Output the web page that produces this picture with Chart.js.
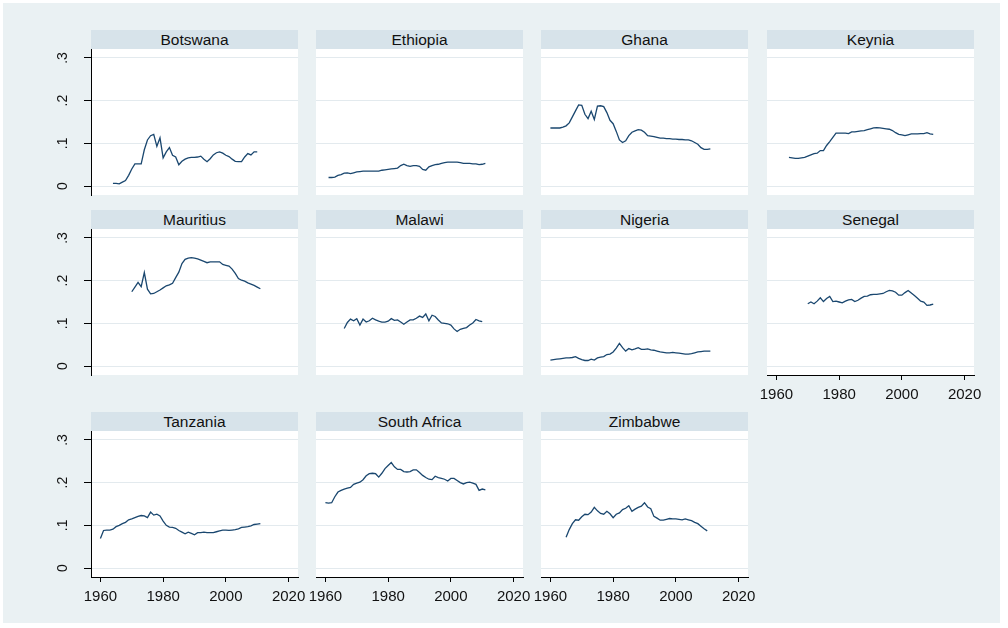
<!DOCTYPE html>
<html lang="en">
<head>
<meta charset="UTF-8">
<title>Series by country</title>
<script src="https://cdn.jsdelivr.net/npm/chart.js"></script>
<style>
  body { margin: 0; background: #fff; font-family: "Liberation Sans", Arial, sans-serif; }
  #frame { position: absolute; left: 3px; top: 3px; width: 997px; height: 620px; background: #eaf1f3; }
  .strip { position: absolute; height: 19px; line-height: 19px; background: #d7e3ea; text-align: center; font-size: 15.5px; color: #111; }
  canvas { position: absolute; }
</style>
</head>
<body>
<div id="frame"></div>
<script>
// panel names (in the order the graph shows them) and the first year of each series
const countries = ['Botswana', 'Ethiopia', 'Ghana', 'Keynia', 'Mauritius', 'Malawi',
                   'Nigeria', 'Senegal', 'Tanzania', 'South Africa', 'Zimbabwe'];
const startYears = [1964, 1961, 1960, 1964, 1970, 1966, 1960, 1970, 1960, 1960, 1965];

// yearly values, one per year from the start year on
const botswana = [.006,.006,.005,.009,.013,.025,.04,.052,.052,.052,.085,.108,.118,.121,.093,.113,.066,.08,.09,.072,
  .068,.05,.058,.063,.066,.067,.067,.068,.07,.063,.057,.064,.073,.078,.08,.077,.072,.069,.063,.058,.057,.057,.068,.076,.073,.08,.08];
const ethiopia = [.02,.02,.021,.025,.027,.03,.031,.029,.031,.033,.034,.035,.035,.035,.035,.035,.035,.037,.038,.039,
  .04,.041,.042,.048,.051,.048,.046,.048,.048,.046,.039,.037,.045,.048,.05,.051,.053,.055,.056,.056,.056,.056,.055,.053,.053,.053,.052,.052,.05,.051,.053];
const ghana = [.136,.136,.136,.136,.138,.141,.148,.162,.176,.19,.189,.168,.158,.175,.156,.187,.188,.186,.172,.154,
  .146,.128,.108,.102,.106,.118,.126,.129,.132,.131,.126,.118,.117,.116,.114,.112,.112,.111,.111,.11,.11,.109,.109,.108,.108,.106,.102,.098,.09,.086,.086,.087];
const keynia = [.067,.066,.065,.065,.066,.067,.07,.073,.076,.077,.083,.083,.095,.104,.114,.124,.124,.124,.124,.123,
  .127,.127,.128,.129,.13,.132,.134,.136,.137,.136,.135,.134,.133,.13,.125,.121,.12,.118,.12,.122,.122,.122,.123,.123,.125,.122,.121];
const mauritius = [.174,.185,.196,.186,.219,.18,.169,.17,.174,.178,.183,.188,.19,.194,.207,.22,.24,.25,.253,.254,
  .253,.251,.248,.245,.242,.244,.244,.244,.244,.238,.236,.234,.227,.217,.205,.201,.199,.195,.192,.189,.185,.181];
const malawi = [.088,.102,.11,.106,.111,.096,.11,.103,.106,.112,.108,.105,.103,.103,.105,.111,.107,.108,.103,.098,
  .103,.108,.108,.112,.117,.114,.122,.106,.119,.116,.108,.101,.1,.099,.096,.087,.081,.086,.088,.09,.096,.101,.109,.106,.104];
const nigeria = [.014,.015,.016,.017,.018,.019,.019,.02,.022,.018,.015,.013,.013,.016,.014,.019,.021,.022,.027,.028,
  .033,.042,.053,.043,.035,.041,.038,.04,.043,.039,.039,.04,.038,.037,.035,.033,.032,.031,.031,.032,.031,.03,.029,.028,.028,.029,.031,.033,.034,.035,.035,.035];
const senegal = [.146,.15,.146,.152,.16,.151,.158,.163,.151,.152,.15,.148,.152,.155,.156,.151,.154,.159,.163,.164,
  .167,.168,.168,.169,.17,.174,.177,.176,.173,.166,.166,.172,.177,.171,.165,.159,.152,.15,.142,.143,.145];
const tanzania = [.069,.088,.089,.089,.091,.097,.1,.104,.107,.113,.115,.118,.121,.123,.122,.118,.131,.124,.126,.122,
  .11,.1,.096,.095,.093,.088,.084,.08,.084,.081,.078,.083,.083,.084,.083,.083,.083,.085,.087,.089,.089,.088,.089,.09,.092,.095,.096,.097,.099,.102,.103,.104];
const southAfrica = [.153,.152,.153,.167,.178,.182,.185,.187,.189,.196,.199,.201,.207,.216,.221,.222,.221,.213,.222,.233,
  .24,.247,.237,.231,.231,.226,.225,.226,.23,.23,.224,.217,.212,.208,.207,.215,.212,.21,.208,.204,.21,.21,.205,.2,.197,.2,.201,.199,.196,.182,.185,.183];
const zimbabwe = [.072,.09,.104,.113,.112,.12,.126,.125,.131,.142,.134,.128,.126,.133,.127,.118,.126,.129,.137,.14,
  .146,.133,.138,.142,.145,.153,.143,.139,.121,.117,.112,.112,.114,.116,.115,.115,.114,.113,.115,.113,.111,.107,.104,.098,.092,.087];

const series = [botswana, ethiopia, ghana, keynia, mauritius, malawi, nigeria, senegal, tanzania, southAfrica, zimbabwe];

const xTicks = [1960, 1980, 2000, 2020];
const yTicks = [0, 0.1, 0.2, 0.3];
const yTickLabels = ['0', '.1', '.2', '.3'];

// panel layout (pixels)
const colLeft = [91, 316, 541, 767];
const stripTop = [30, 210, 412];
const stripH = 19, plotW = 207, plotH = 146;

Chart.defaults.font.family = '"Liberation Sans", Arial, sans-serif';

const plotBg = {
  id: 'plotBg',
  beforeDraw(chart) {
    const a = chart.chartArea, c = chart.ctx;
    c.save();
    c.fillStyle = '#ffffff';
    c.fillRect(a.left, a.top, a.width, a.height);
    c.restore();
  }
};

countries.forEach((name, i) => {
  const col = i % 4, row = Math.floor(i / 4);
  const showX = row === 2 || name === 'Senegal';
  const showY = col === 0;
  const plotLeft = colLeft[col], plotTop = stripTop[row] + stripH;
  const padL = showY ? 51 : 12, padT = 6, padR = 20, padB = showX ? 30 : 6;

  const strip = document.createElement('div');
  strip.className = 'strip';
  strip.textContent = name;
  strip.style.left = plotLeft + 'px';
  strip.style.top = stripTop[row] + 'px';
  strip.style.width = plotW + 'px';
  document.body.appendChild(strip);

  const cv = document.createElement('canvas');
  cv.width = padL + plotW + padR;
  cv.height = padT + plotH + padB;
  cv.style.left = (plotLeft - padL) + 'px';
  cv.style.top = (plotTop - padT) + 'px';
  document.body.appendChild(cv);

  const points = series[i].map((v, k) => ({ x: startYears[i] + k, y: v }));

  new Chart(cv, {
    type: 'line',
    data: {
      datasets: [{
        data: points,
        borderColor: '#1a476f',
        borderWidth: 1.3,
        pointRadius: 0,
        tension: 0,
        fill: false
      }]
    },
    plugins: [plotBg],
    options: {
      responsive: false,
      animation: false,
      devicePixelRatio: 1,
      layout: { padding: { left: showY ? 0 : 12, top: padT, right: padR, bottom: showX ? 0 : 6 } },
      plugins: { legend: { display: false }, tooltip: { enabled: false } },
      scales: {
        x: {
          type: 'linear',
          min: 1957,
          max: 2023,
          display: showX,
          afterBuildTicks: s => { s.ticks = xTicks.map(v => ({ value: v })); },
          afterFit: s => { s.height = showX ? 30 : 0; s.paddingLeft = 0; s.paddingRight = 0; },
          grid: { display: true, drawOnChartArea: false, drawTicks: true, tickLength: 5, tickColor: '#000' },
          border: { display: true, color: '#000', width: 1 },
          ticks: {
            autoSkip: false, minRotation: 0, maxRotation: 0, padding: 6,
            color: '#111', font: { size: 15 },
            callback: v => String(v)
          }
        },
        y: {
          min: -0.021,
          max: 0.321,
          afterBuildTicks: s => { s.ticks = yTicks.map(v => ({ value: v })); },
          afterFit: s => { s.width = showY ? 51 : 0; s.paddingTop = 0; s.paddingBottom = 0; },
          grid: { color: '#e3eaee', lineWidth: 1, drawTicks: showY, tickLength: 7, tickColor: '#000' },
          border: { display: showY, color: '#000', width: 1 },
          ticks: {
            display: showY, minRotation: 90, maxRotation: 90, crossAlign: 'center', padding: 15,
            color: '#111', font: { size: 14 },
            callback: v => yTickLabels[yTicks.indexOf(v)]
          }
        }
      }
    }
  });
});
</script>
</body>
</html>
